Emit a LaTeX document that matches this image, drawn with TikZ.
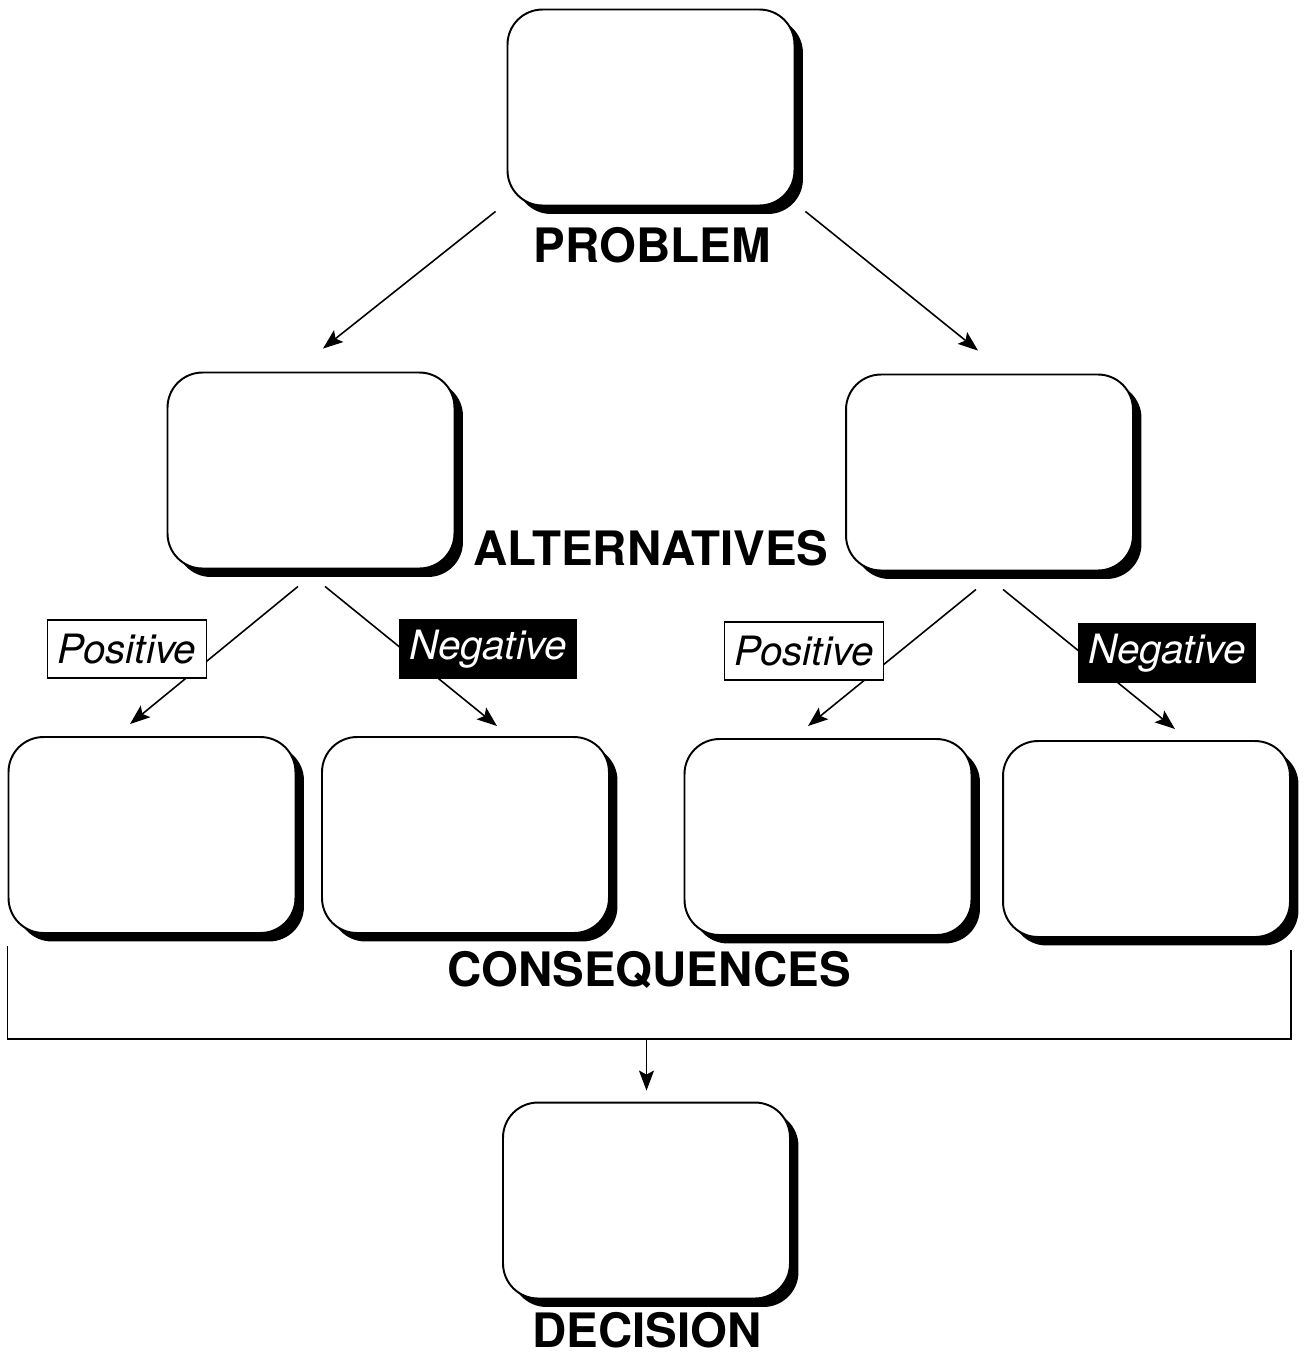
\documentclass[tikz,border=0pt]{standalone}
\usepackage{fontspec}
\setmainfont{TeX Gyre Heros}
\usetikzlibrary{arrows.meta,positioning,shadows}

\begin{document}
\begin{tikzpicture}[x=0.02cm, y=-0.02cm,
    card/.style={
        rectangle,
        rounded corners=0.7cm,
        draw,
        line width=1.1pt,
        fill=white,
        minimum width=5.74cm,
        minimum height=3.92cm,
        drop shadow={shadow xshift=0.17cm, shadow yshift=-0.17cm, fill=black, opacity=1}
    },
    heading/.style={inner sep=0pt, font=\fontsize{27}{32}\selectfont\bfseries},
    pos_tag/.style={
        draw,
        line width=0.8pt,
        fill=white,
        inner xsep=0.2cm,
        minimum height=1.16cm,
        font=\fontsize{23}{28}\selectfont\itshape
    },
    neg_tag/.style={pos_tag, fill=black, text=white},
    link/.style={line width=0.9pt, -{Stealth[length=0.4cm, width=0.3cm, inset=0.08cm]}}
]
    \useasboundingbox (0,0) rectangle (1304,1357);

    % boxes
    \node[card] (problem_box) at (651,107.5) {};
    \node[card] (alt_left) at (311,470.5) {};
    \node[card] (alt_right) at (989.5,472.5) {};
    \node[card] (con_one) at (152,835) {};
    \node[card] (con_two) at (465.5,835) {};
    \node[card] (con_three) at (828,837) {};
    \node[card] (con_four) at (1146.5,839) {};
    \node[card] (decision_box) at (646.5,1200.5) {};

    % headings
    \node[heading] (problem_label) at (652,245) {PROBLEM};
    \node[heading] (alt_label) at (651,548) {ALTERNATIVES};
    \node[heading] (con_label) at (649,970) {CONSEQUENCES};
    \node[heading] (decision_label) at (647,1330) {DECISION};

    % problem to alternatives
    \draw[link] ([xshift=-0.22cm, yshift=-0.1cm]problem_box.south west)
        to ([xshift=0.24cm, yshift=0.46cm]alt_left.north);
    \draw[link] ([xshift=0.2cm, yshift=-0.1cm]problem_box.south east)
        to ([xshift=-0.23cm, yshift=0.46cm]alt_right.north);

    % alternatives to consequences
    \draw[link] ([xshift=-0.26cm, yshift=-0.34cm]alt_left.south)
        to ([xshift=-0.44cm, yshift=0.24cm]con_one.north);
    \draw[link] ([xshift=0.28cm, yshift=-0.34cm]alt_left.south)
        to ([xshift=0.63cm, yshift=0.2cm]con_two.north);
    \draw[link] ([xshift=-0.27cm, yshift=-0.36cm]alt_right.south)
        to ([xshift=-0.4cm, yshift=0.24cm]con_three.north);
    \draw[link] ([xshift=0.27cm, yshift=-0.36cm]alt_right.south)
        to ([xshift=0.57cm, yshift=0.22cm]con_four.north);

    % tags on the lines
    \node[pos_tag] (pos_left) at (127,649) {Positive};
    \node[neg_tag] (neg_left) at (488,649) {Negative};
    \node[pos_tag] (pos_right) at (804,651) {Positive};
    \node[neg_tag] (neg_right) at (1167,653) {Negative};

    % bracket and decision
    \coordinate (bracket_mid) at (decision_box.north |- 0,1039);
    \draw[line width=0.9pt] ([yshift=-0.24cm]con_one.south west)
        -- (con_one.south west |- bracket_mid)
        -- (con_four.south east |- bracket_mid)
        -- ([yshift=-0.24cm]con_four.south east);
    \draw[link] (bracket_mid) to ([yshift=0.22cm]decision_box.north);
\end{tikzpicture}
\end{document}
